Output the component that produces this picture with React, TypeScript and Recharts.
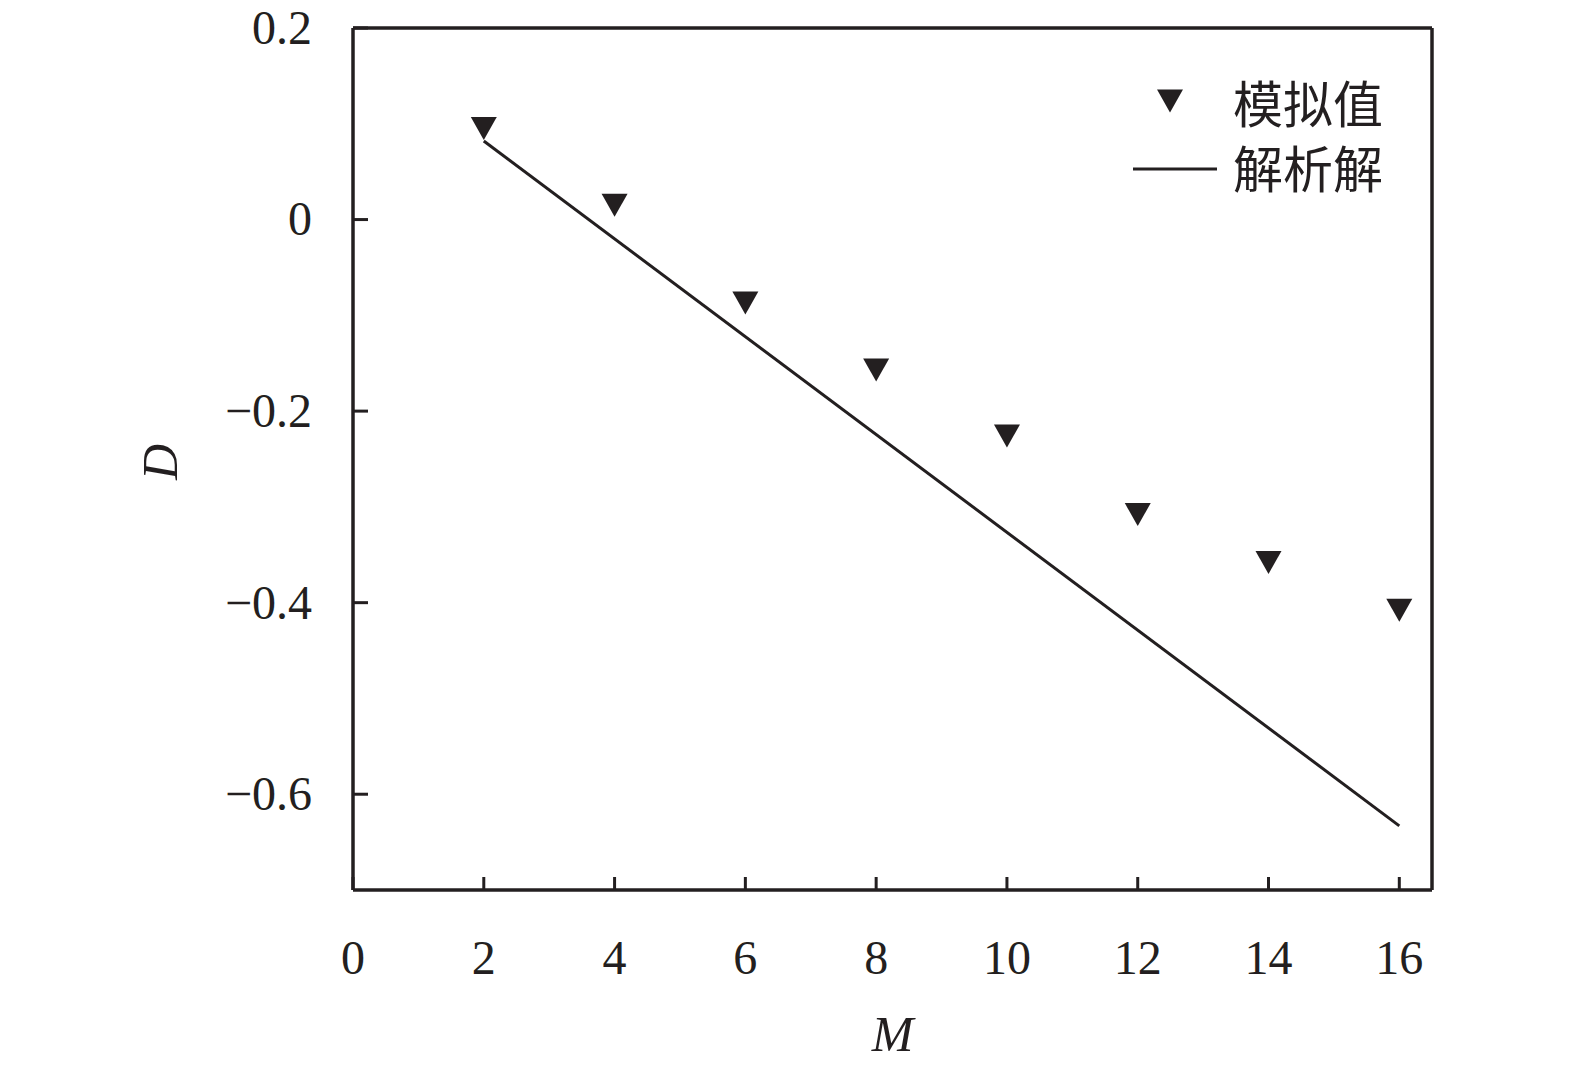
import {
  ComposedChart,
  Legend,
  Line,
  Scatter,
  XAxis,
  YAxis,
} from "recharts";

const INK = "#231f20";
const SERIF = '"Liberation Serif", "Times New Roman", serif';
const CJK = '"Noto Sans CJK SC", sans-serif';

// simulated values (M, D)
const simM = [2, 4, 6, 8, 10, 12, 14, 16];
const simD = [0.095, 0.015, -0.087, -0.157, -0.226, -0.308, -0.358, -0.408];

// analytical solution (straight line, endpoints)
const anaM = [2, 16];
const anaD = [0.082, -0.633];

const xTicks = [0, 2, 4, 6, 8, 10, 12, 14, 16];
const yTicks = [0.2, 0, -0.2, -0.4, -0.6];

const simData = simM.map((m, i) => ({ x: m, y: simD[i] }));
const anaData = anaM.map((m, i) => ({ x: m, y: anaD[i] }));

const fmtY = (v: number) =>
  v === 0 ? "0" : v < 0 ? `\u2212${Math.abs(v).toFixed(1)}` : v.toFixed(1);

// ticks point into the plot, so draw the tick line together with the label
function XTick(props: any) {
  const { x, y, payload } = props;
  return (
    <g>
      <line x1={x} x2={x} y1={y} y2={y - 13} stroke={INK} strokeWidth={3} />
      <text
        x={x}
        y={y + 84}
        textAnchor="middle"
        fontFamily={SERIF}
        fontSize={48}
        fill={INK}
      >
        {payload.value}
      </text>
    </g>
  );
}

function YTick(props: any) {
  const { x, y, payload } = props;
  return (
    <g>
      <line x1={x} x2={x + 15} y1={y} y2={y} stroke={INK} strokeWidth={3} />
      <text
        x={x - 41}
        y={y}
        dy="0.33em"
        textAnchor="end"
        fontFamily={SERIF}
        fontSize={48}
        fill={INK}
      >
        {fmtY(payload.value)}
      </text>
    </g>
  );
}

function DownTriangle(props: any) {
  const { cx, cy } = props;
  if (cx == null || cy == null) return null;
  return (
    <polygon
      points={`${cx - 13},${cy - 11.5} ${cx + 13},${cy - 11.5} ${cx},${cy + 11.5}`}
      fill={INK}
    />
  );
}

function YLabel(props: any) {
  const { x, y, height } = props.viewBox;
  const cx = x + 20;
  const cy = y + height / 2 + 3;
  return (
    <text
      x={cx}
      y={cy}
      transform={`rotate(-90, ${cx}, ${cy})`}
      textAnchor="middle"
      dominantBaseline="central"
      fontFamily={SERIF}
      fontStyle="italic"
      fontSize={50}
      fill={INK}
    >
      D
    </text>
  );
}

function XLabel(props: any) {
  const { x, y, width } = props.viewBox;
  return (
    <text
      x={x + width / 2}
      y={y + 161}
      textAnchor="middle"
      fontFamily={SERIF}
      fontStyle="italic"
      fontSize={50}
      fill={INK}
    >
      M
    </text>
  );
}

function renderLegend() {
  const row = { display: "flex", alignItems: "center", height: 65 } as const;
  const text = { fontFamily: CJK, fontSize: 50, color: INK, marginLeft: 8, lineHeight: 1 };
  return (
    <div>
      <div style={row}>
        <svg width={100} height={40} style={{ display: "block" }}>
          <polygon points="32,8.5 58,8.5 45,31.5" fill={INK} />
        </svg>
        <span style={text}>模拟值</span>
      </div>
      <div style={row}>
        <svg width={100} height={40} style={{ display: "block" }}>
          <line x1={8} x2={92} y1={23} y2={23} stroke={INK} strokeWidth={3} />
        </svg>
        <span style={text}>解析解</span>
      </div>
    </div>
  );
}

export default function App() {
  return (
    <div style={{ width: 1575, height: 1068, background: "#fff" }}>
      <style>{`body{margin:0}`}</style>
      <ComposedChart
        width={1575}
        height={1068}
        margin={{ top: 27, right: 142, bottom: 0, left: 140 }}
      >
        <XAxis
          type="number"
          dataKey="x"
          domain={[0, 16.5]}
          ticks={xTicks}
          interval={0}
          height={178}
          tickSize={0}
          tickMargin={0}
          axisLine={{ stroke: INK, strokeWidth: 3.5 }}
          tickLine={false}
          tick={<XTick />}
          label={<XLabel />}
        />
        <XAxis
          xAxisId="top"
          orientation="top"
          type="number"
          domain={[0, 16.5]}
          height={1}
          tick={false}
          tickLine={false}
          axisLine={{ stroke: INK, strokeWidth: 3.5 }}
        />
        <YAxis
          type="number"
          domain={[-0.7, 0.2]}
          ticks={yTicks}
          interval={0}
          width={213}
          tickSize={0}
          tickMargin={0}
          axisLine={{ stroke: INK, strokeWidth: 3.5 }}
          tickLine={false}
          tick={<YTick />}
          label={<YLabel />}
        />
        <YAxis
          yAxisId="right"
          orientation="right"
          type="number"
          domain={[-0.7, 0.2]}
          width={1}
          tick={false}
          tickLine={false}
          axisLine={{ stroke: INK, strokeWidth: 3.5 }}
        />
        <Legend
          layout="vertical"
          verticalAlign="middle"
          align="center"
          wrapperStyle={{ left: 1125, top: 68, width: 300, height: 140 }}
          content={renderLegend}
        />
        <Line
          data={anaData}
          dataKey="y"
          name="解析解"
          type="linear"
          stroke={INK}
          strokeWidth={3}
          dot={false}
          activeDot={false}
          isAnimationActive={false}
        />
        <Scatter
          data={simData}
          dataKey="y"
          name="模拟值"
          fill={INK}
          shape={DownTriangle}
          isAnimationActive={false}
        />
      </ComposedChart>
    </div>
  );
}
